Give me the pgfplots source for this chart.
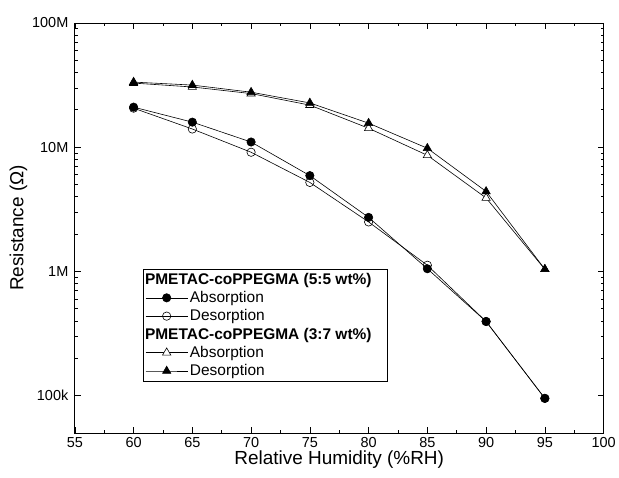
\documentclass[border=0pt]{standalone}
\usepackage{fontspec}
\setmainfont{Liberation Sans}
\usepackage{pgfplots}
\pgfplotsset{compat=1.18}

\begin{document}
\begin{tikzpicture}
\begin{axis}[
  scale only axis,width=530pt,height=411pt,
  xmin=55,xmax=100,ymode=log,ymin=5e4,ymax=1e8,
  xtick={55,60,...,100},minor x tick num=1,
  ytick={1e5,1e6,1e7,1e8},yticklabels={100k,1M,10M,100M},
  tick align=inside,major tick length=6pt,minor tick length=3pt,
  tick style={black,line width=0.6pt},
  axis line style={line width=0.8pt},
  /pgf/number format/assume math mode=true,
  tick label style={font=\fontsize{14.5}{17}\selectfont},
  xticklabel style={yshift=-1pt},yticklabel style={xshift=-3pt},
  xlabel={Relative Humidity (\%RH)},ylabel={Resistance (Ω)},
  label style={font=\fontsize{19}{21}\selectfont},
  xlabel style={yshift=4pt},ylabel style={yshift=-2pt},
  legend style={at={(0.129,0.125)},anchor=south west,draw=black,line width=0.8pt,
    font=\fontsize{15.5}{17.5}\selectfont,row sep=1.6pt,inner sep=2pt},
  legend cell align=left,
  legend image code/.code={\draw[mark repeat=2,mark phase=2,#1] plot coordinates {(0pt,0pt) (21pt,0pt) (42pt,0pt)};},
]
% 5:5 absorption
\addplot[black,line width=0.6pt,mark=*,mark size=4.2pt,forget plot] coordinates {
(60,2.1e7) (65,1.59e7) (70,1.1e7) (75,5.9e6) (80,2.72e6) (85,1.05e6) (90,3.95e5) (95,9.5e4)};
% 5:5 desorption
\addplot[black,line width=0.6pt,mark=o,mark size=4.2pt,mark options={fill=white},forget plot] coordinates {
(60,2.06e7) (65,1.4e7) (70,9.1e6) (75,5.2e6) (80,2.5e6) (85,1.12e6) (90,3.95e5) (95,9.5e4)};
% 3:7 absorption
\addplot[black,line width=0.6pt,mark=triangle*,mark size=4.8pt,mark options={fill=white},forget plot] coordinates {
(60,3.28e7) (65,3.05e7) (70,2.7e7) (75,2.18e7) (80,1.42e7) (85,8.6e6) (90,3.9e6) (95,1.04e6)};
% 3:7 desorption
\addplot[black,line width=0.6pt,mark=triangle*,mark size=4.8pt,forget plot] coordinates {
(60,3.34e7) (65,3.16e7) (70,2.77e7) (75,2.27e7) (80,1.56e7) (85,9.8e6) (90,4.4e6) (95,1.04e6)};

\addlegendimage{empty legend}
\addlegendentry{\hspace*{-45pt}\textbf{PMETAC-coPPEGMA (5:5 wt\%)}\hspace*{12pt}}
\addlegendimage{black,line width=0.6pt,mark=*,mark size=4.2pt}
\addlegendentry{Absorption}
\addlegendimage{black,line width=0.6pt,mark=o,mark size=4.2pt,mark options={fill=white}}
\addlegendentry{Desorption}
\addlegendimage{empty legend}
\addlegendentry{\hspace*{-45pt}\textbf{PMETAC-coPPEGMA (3:7 wt\%)}\hspace*{12pt}}
\addlegendimage{black,line width=0.6pt,mark=triangle*,mark size=4.8pt,mark options={fill=white}}
\addlegendentry{Absorption}
\addlegendimage{black,line width=0.6pt,mark=triangle*,mark size=4.8pt}
\addlegendentry{Desorption}
\end{axis}
\path ([shift={(-75pt,-45pt)}]current axis.south west) rectangle ([shift={(14pt,23pt)}]current axis.north east);
\end{tikzpicture}
\end{document}
